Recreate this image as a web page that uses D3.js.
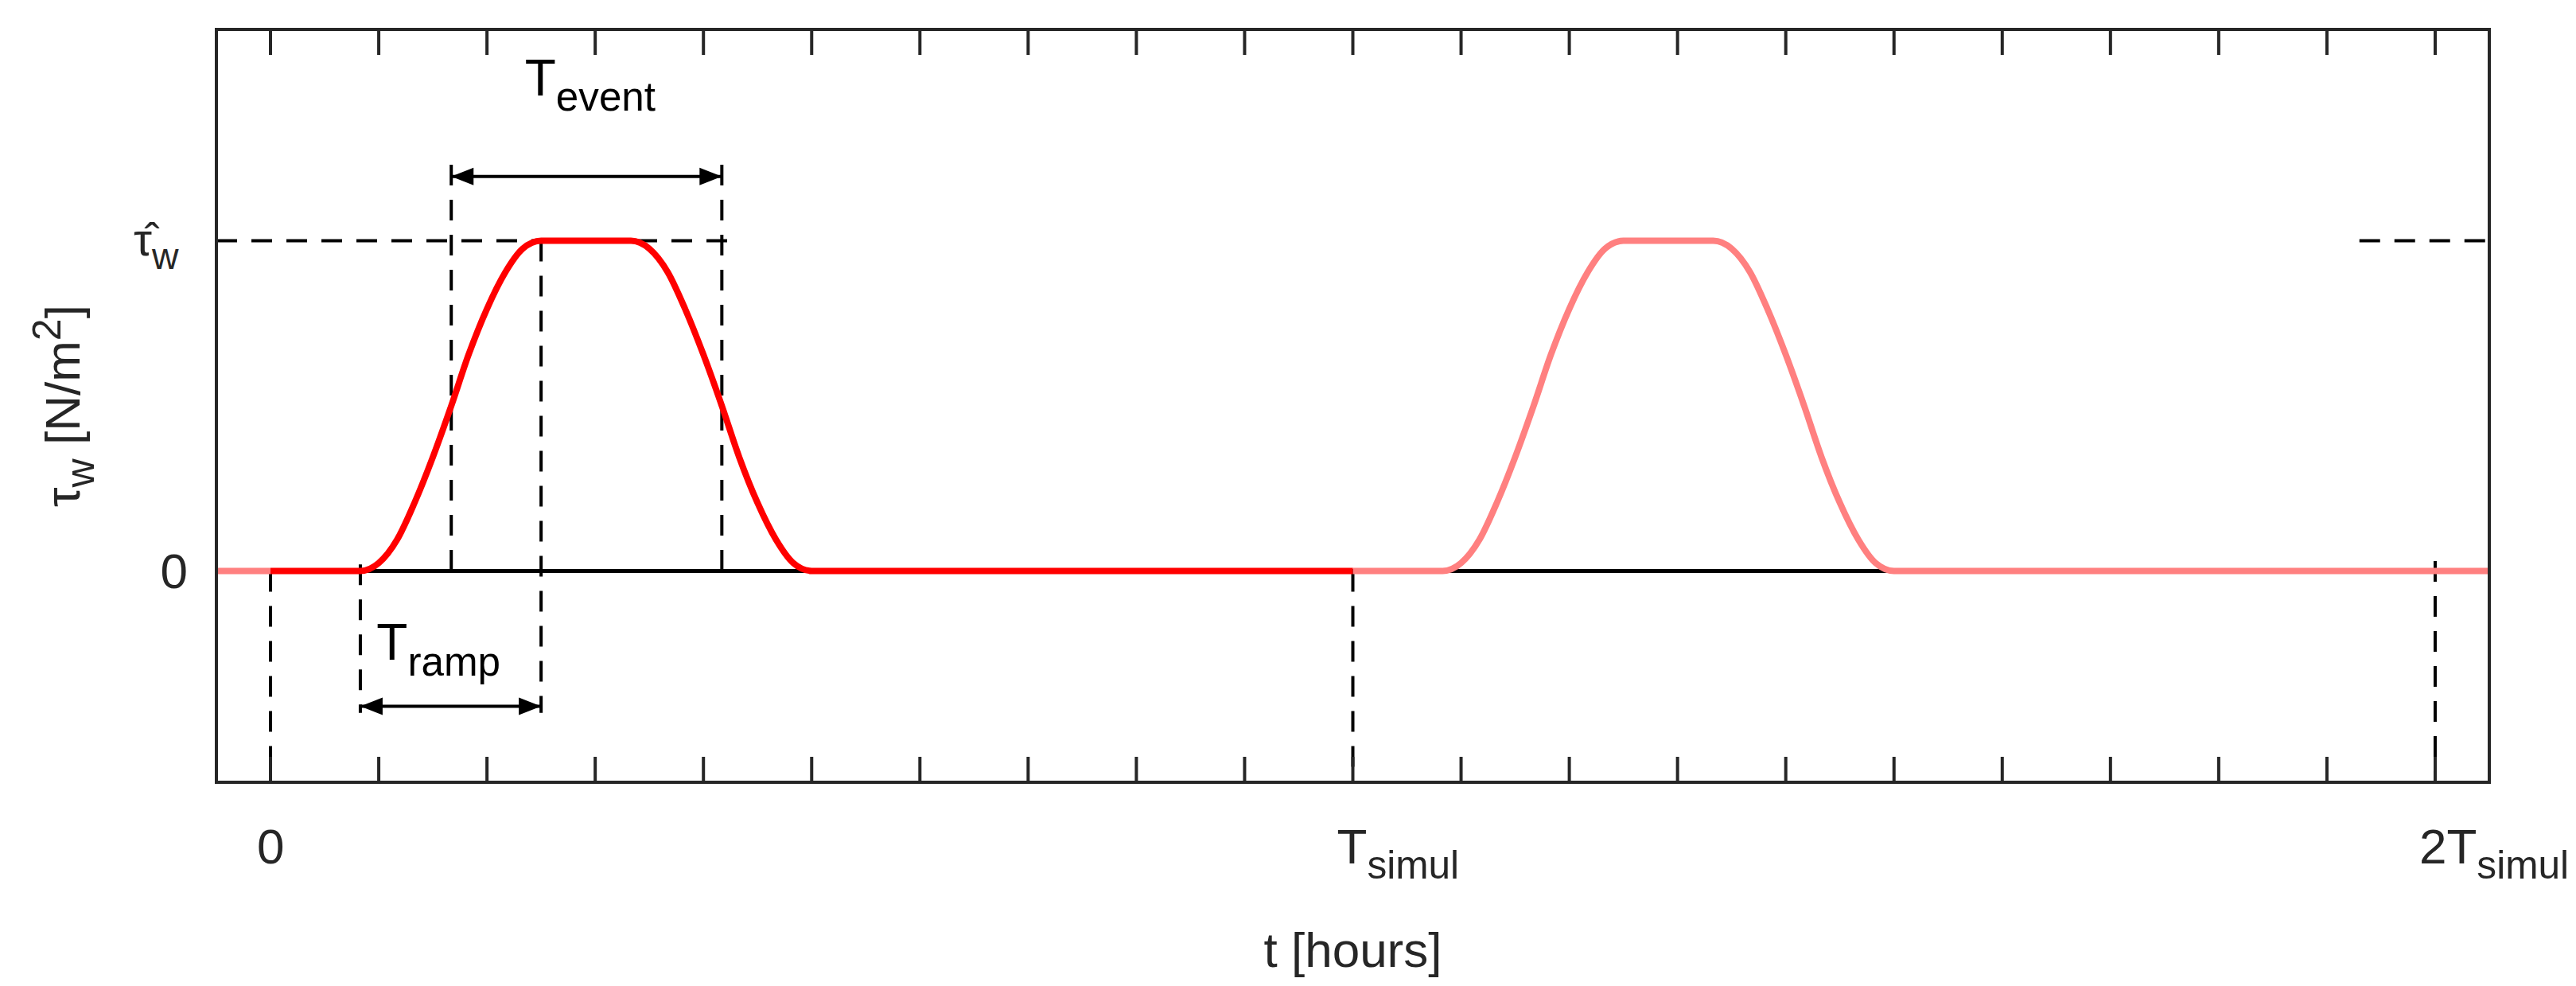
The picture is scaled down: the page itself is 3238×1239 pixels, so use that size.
<!DOCTYPE html>
<html><head><meta charset="utf-8">
<script src="https://cdn.jsdelivr.net/npm/d3@7"></script>
<style>body{margin:0;background:#fff}text{font-family:"Liberation Sans",Arial,sans-serif;fill:#262626}</style>
</head><body><div id="chart"></div>
<script>
// t in units of hours (T_simul = 10), tau normalised so that tau_hat = 1
const tPre = [-0.5, 0];
const tauPre = [0, 0];
const tEvent1 = [0, 0.83, 1.0, 1.17, 1.33, 1.5, 1.67, 1.83, 2.0, 2.17, 2.33, 2.5, 3.33, 3.5, 3.67, 3.83, 4.0, 4.17, 4.33, 4.5, 4.67, 4.83, 5.0, 10];
const tau1 = [0, 0, 0.024, 0.095, 0.206, 0.345, 0.5, 0.655, 0.794, 0.905, 0.976, 1, 1, 0.976, 0.905, 0.794, 0.655, 0.5, 0.345, 0.206, 0.095, 0.024, 0, 0];
const tEvent2 = [10, 10.83, 11.0, 11.17, 11.33, 11.5, 11.67, 11.83, 12.0, 12.17, 12.33, 12.5, 13.33, 13.5, 13.67, 13.83, 14.0, 14.17, 14.33, 14.5, 14.67, 14.83, 15.0, 20.5];
const tau2 = tau1.slice();
const xTickLabels = [[0, "0", ""], [10, "T", "simul"], [20, "2T", "simul"]];
const tRampStart = 0.83, tRampEnd = 2.5, tEvStart = 1.67, tEvEnd = 4.17;

const W = 3238, H = 1239;
const m = {left: 272, right: 3129, top: 37, bottom: 983};
const x = d3.scaleLinear().domain([-0.5, 20.5]).range([m.left, m.right]);
const y = d3.scaleLinear().domain([-0.64, 1.64]).range([m.bottom, m.top]);

const svg = d3.select("#chart").append("svg").attr("width", W).attr("height", H);
const line = d3.line().x(d => x(d[0])).y(d => y(d[1])).curve(d3.curveMonotoneX);

// zero line
svg.append("line").attr("x1", m.left).attr("x2", m.right).attr("y1", y(0)).attr("y2", y(0))
  .attr("stroke", "#000").attr("stroke-width", 5);

const dash = (x1, y1, x2, y2) => svg.append("line").attr("x1", x1).attr("y1", y1).attr("x2", x2).attr("y2", y2)
  .attr("stroke", "#000").attr("stroke-width", 4).attr("stroke-dasharray", "26,18");

dash(m.left, y(1), x(4.3), y(1));
dash(x(19.3), y(1), m.right, y(1));
dash(x(0), y(0), x(0), m.bottom);
dash(x(10), y(0), x(10), m.bottom);
dash(x(20), y(0.03), x(20), m.bottom);
dash(x(tRampStart), y(0.02), x(tRampStart), y(-0.43));
dash(x(tRampEnd), y(1), x(tRampEnd), y(-0.43));
dash(x(tEvStart), y(1.23), x(tEvStart), y(-0.03));
dash(x(tEvEnd), y(1.23), x(tEvEnd), y(-0.03));

// curves
svg.append("path").attr("d", line(d3.zip(tPre, tauPre))).attr("fill", "none").attr("stroke", "#ff8080").attr("stroke-width", 8);
svg.append("path").attr("d", line(d3.zip(tEvent2, tau2))).attr("fill", "none").attr("stroke", "#ff8080").attr("stroke-width", 8);
svg.append("path").attr("d", line(d3.zip(tEvent1, tau1))).attr("fill", "none").attr("stroke", "#ff0000").attr("stroke-width", 8);

// arrows
function arrow(t1, t2, yy) {
  const x1 = x(t1), x2 = x(t2), yp = y(yy);
  svg.append("line").attr("x1", x1).attr("x2", x2).attr("y1", yp).attr("y2", yp).attr("stroke", "#000").attr("stroke-width", 4);
  svg.append("path").attr("d", `M${x1},${yp}L${x1+28},${yp-11}L${x1+28},${yp+11}Z`).attr("fill", "#000");
  svg.append("path").attr("d", `M${x2},${yp}L${x2-28},${yp-11}L${x2-28},${yp+11}Z`).attr("fill", "#000");
}
arrow(tEvStart, tEvEnd, 1.195);
arrow(tRampStart, tRampEnd, -0.41);

function subText(px, py, main, sub, size, anchor, g) {
  const t = (g || svg).append("text").attr("x", px).attr("y", py).attr("text-anchor", anchor || "start")
    .style("font-size", size + "px");
  t.append("tspan").text(main);
  if (sub) t.append("tspan").attr("dy", size * 0.3).style("font-size", (size * 0.8) + "px").text(sub);
  return t;
}
subText(x(2.35), y(1.44), "T", "event", 64).style("fill", "#000");
subText(x(0.98), y(-0.27), "T", "ramp", 64).style("fill", "#000");

// frame and ticks
svg.append("rect").attr("x", m.left).attr("y", m.top).attr("width", m.right - m.left).attr("height", m.bottom - m.top)
  .attr("fill", "none").attr("stroke", "#262626").attr("stroke-width", 4);
const ticks = d3.range(0, 21);
svg.selectAll(".tb").data(ticks).join("line").attr("x1", d => x(d)).attr("x2", d => x(d))
  .attr("y1", m.bottom).attr("y2", m.bottom - 32).attr("stroke", "#262626").attr("stroke-width", 4);
svg.selectAll(".tt").data(ticks).join("line").attr("x1", d => x(d)).attr("x2", d => x(d))
  .attr("y1", m.top).attr("y2", m.top + 32).attr("stroke", "#262626").attr("stroke-width", 4);

// tick labels
xTickLabels.forEach(d => subText(x(d[0]) - 18 + (d[2] ? 0 : 0), 1085, d[1], d[2], 62, "start").attr("x", x(d[0]) - (d[2] ? 20 : 17)));
svg.append("text").attr("x", 236).attr("y", y(0) + 22).attr("text-anchor", "end").style("font-size", "62px").text("0");
subText(168, y(1) + 18, "τ\u0302", "w", 58, "start");

// axis labels
svg.append("text").attr("x", (m.left + m.right) / 2).attr("y", 1215).attr("text-anchor", "middle").style("font-size", "62px").text("t [hours]");
const yl = svg.append("text").attr("transform", `translate(100,${(m.top + m.bottom) / 2}) rotate(-90)`)
  .attr("text-anchor", "middle").style("font-size", "62px");
yl.append("tspan").text("τ");
yl.append("tspan").attr("dy", 18).style("font-size", "50px").text("w");
yl.append("tspan").attr("dy", -18).text(" [N/m");
yl.append("tspan").attr("dy", -24).style("font-size", "50px").text("2");
yl.append("tspan").attr("dy", 24).text("]");
</script></body></html>
